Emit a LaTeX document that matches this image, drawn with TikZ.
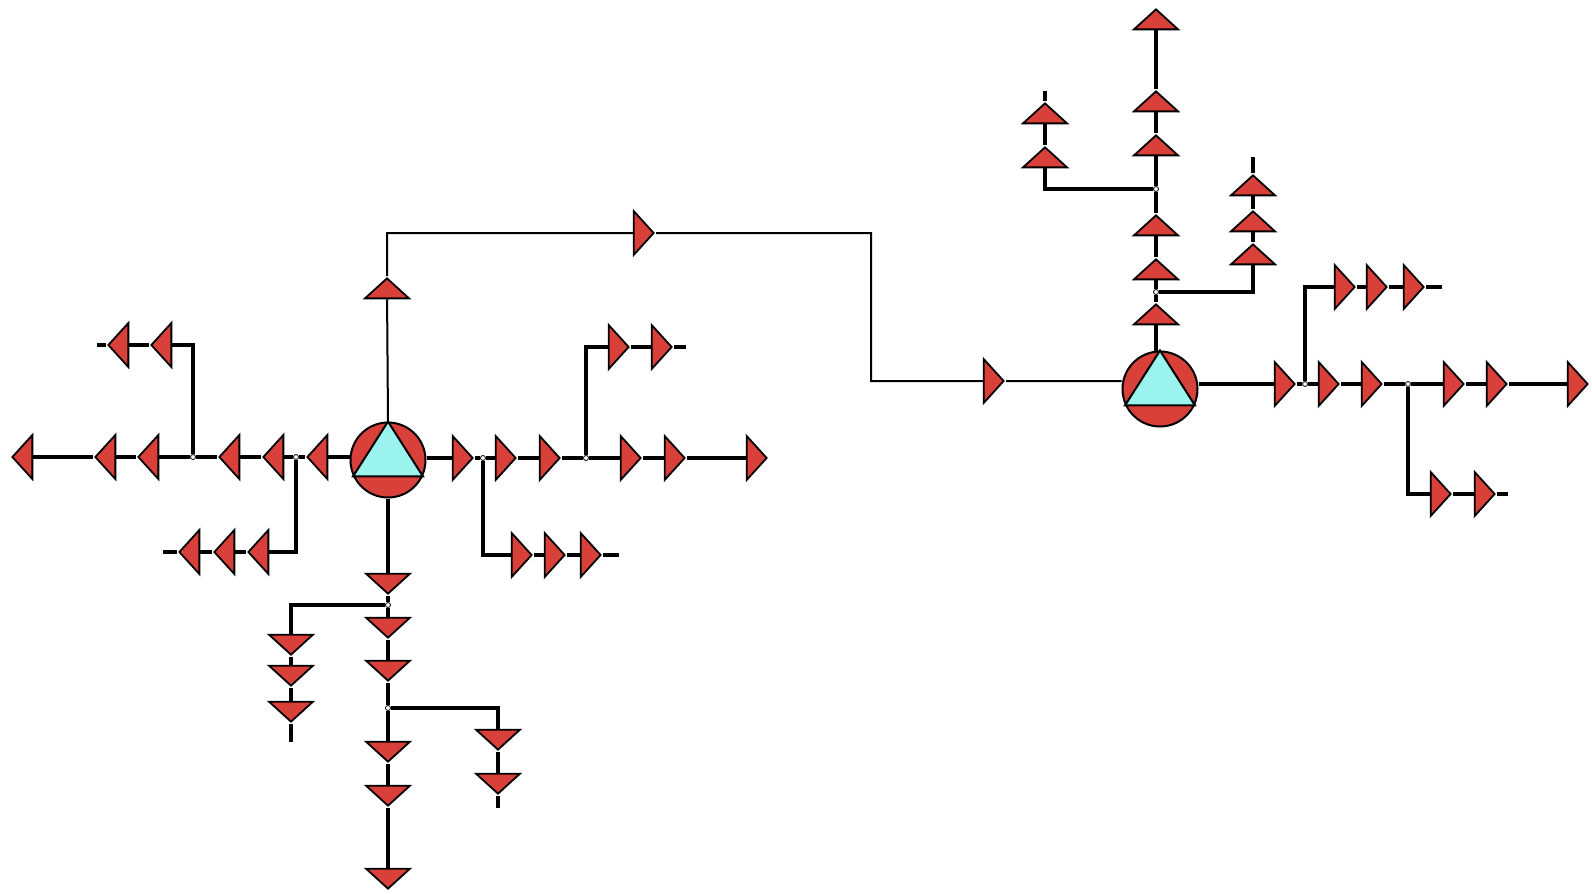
\documentclass[tikz,border=0pt]{standalone}
\usepackage{tikz}
\usetikzlibrary{shapes.geometric}
\definecolor{cr}{HTML}{D9403A}
\definecolor{cc}{HTML}{9AF3EC}
\tikzset{
  pipe/.style={line width=2pt},
  feeder/.style={line width=1pt},
  tri/.style={isosceles triangle,isosceles triangle stretches,draw,line width=0.9pt,fill=cr,inner sep=0pt,minimum width=22pt,minimum height=10pt,anchor=apex},
  triR/.style={tri},
  triL/.style={tri,rotate=180},
  triU/.style={tri,rotate=90},
  triD/.style={tri,rotate=-90},
  hub/.style={circle,draw,line width=1pt,fill=cr,minimum size=37.5pt,inner sep=0pt},
  joint/.style={circle,draw,line width=0.4pt,fill=white,minimum size=2.5pt,inner sep=0pt},
}

\begin{document}
\begin{tikzpicture}[x=0.5pt,y=-0.5pt]
  \useasboundingbox (0,0) rectangle (1592,894);
  % left station
  \node[hub] (hubA) at (388,460) {};
  \draw[line width=1pt,fill=cc] (hubA.north) -- (hubA.-25) -- (hubA.205) -- cycle;
  % left run
  \node[triL] (tL1) at (305,457) {};
  \node[triL] (tL2) at (261,457) {};
  \node[triL] (tL3) at (217,457) {};
  \node[triL] (tL4) at (136,457) {};
  \node[triL] (tL5) at (93,457) {};
  \node[triL] (tL6) at (10,457) {};
  \node[joint] (jL1) at (296,457) {};
  \node[joint] (jL2) at (193,457) {};
  \coordinate (cL1) at (296,552);
  \coordinate (cL2) at (193,345);
  \node[triL] (tUL1) at (149,345) {};
  \node[triL] (tUL2) at (106,345) {};
  \coordinate (eUL) at (97,345);
  \node[triL] (tLL1) at (246,552) {};
  \node[triL] (tLL2) at (212,552) {};
  \node[triL] (tLL3) at (177,552) {};
  \coordinate (eLL) at (163,552);
  \draw[pipe] (tL1 -| hubA.west) -- (tL1) -- (jL1) -- (tL2) -- (tL3) -- (jL2) -- (tL4) -- (tL5) -- (tL6);
  \draw[pipe] (jL2) -- (cL2) -- (tUL1) -- (tUL2) -- (eUL);
  \draw[pipe] (jL1) -- (cL1) -- (tLL1) -- (tLL2) -- (tLL3) -- (eLL);
  % right run
  \node[triR] (tR1) at (475,458) {};
  \node[triR] (tR2) at (518,458) {};
  \node[triR] (tR3) at (562,458) {};
  \node[triR] (tR4) at (643,458) {};
  \node[triR] (tR5) at (687,458) {};
  \node[triR] (tR6) at (769,458) {};
  \node[joint] (jR1) at (483,458) {};
  \node[joint] (jR2) at (586,458) {};
  \coordinate (cR1) at (483,555);
  \coordinate (cR2) at (586,347);
  \node[triR] (tRD1) at (534,555) {};
  \node[triR] (tRD2) at (567,555) {};
  \node[triR] (tRD3) at (603,555) {};
  \coordinate (eRD) at (619,555);
  \node[triR] (tRU1) at (631,347) {};
  \node[triR] (tRU2) at (674,347) {};
  \coordinate (eRU) at (686,347);
  \draw[pipe] (tR1 -| hubA.east) -- (tR1) -- (jR1) -- (tR2) -- (tR3) -- (jR2) -- (tR4) -- (tR5) -- (tR6);
  \draw[pipe] (jR1) -- (cR1) -- (tRD1) -- (tRD2) -- (tRD3) -- (eRD);
  \draw[pipe] (jR2) -- (cR2) -- (tRU1) -- (tRU2) -- (eRU);
  % down run
  \node[triD] (tD1) at (388,596) {};
  \node[triD] (tD2) at (388,640) {};
  \node[triD] (tD3) at (388,683) {};
  \node[triD] (tD4) at (388,764) {};
  \node[triD] (tD5) at (388,808) {};
  \node[triD] (tD6) at (388,891) {};
  \node[joint] (jD1) at (388,605) {};
  \node[joint] (jD2) at (388,708) {};
  \coordinate (cD1) at (291,605);
  \coordinate (cD2) at (498,708);
  \node[triD] (tDL1) at (291,657) {};
  \node[triD] (tDL2) at (291,688) {};
  \node[triD] (tDL3) at (291,724) {};
  \coordinate (eDL) at (291,742);
  \node[triD] (tDR1) at (498,752) {};
  \node[triD] (tDR2) at (498,796) {};
  \coordinate (eDR) at (498,808);
  \draw[pipe] (hubA.south) -- (tD1) -- (jD1) -- (tD2) -- (tD3) -- (jD2) -- (tD4) -- (tD5) -- (tD6);
  \draw[pipe] (jD1) -- (cD1) -- (tDL1) -- (tDL2) -- (tDL3) -- (eDL);
  \draw[pipe] (jD2) -- (cD2) -- (tDR1) -- (tDR2) -- (eDR);
  % right station
  \node[hub] (hubB) at (1160,389) {};
  \draw[line width=1pt,fill=cc] (hubB.north) -- (hubB.-25) -- (hubB.205) -- cycle;
  % link between stations
  \node[triU] (tUp) at (387,276) {};
  \coordinate (cT1) at (387,233);
  \node[triR] (tTop) at (656,233) {};
  \coordinate (cT2) at (871,233);
  \coordinate (cT3) at (871,381);
  \node[triR] (tFeed) at (1006,381) {};
  \draw[feeder] (hubA.north) -- (tUp) -- (cT1) -- (tTop) -- (cT2) -- (cT3) -- (tFeed) -- (tFeed -| hubB.west);
  % east run
  \node[triR] (tS1) at (1297,384) {};
  \node[triR] (tS2) at (1341,384) {};
  \node[triR] (tS3) at (1384,384) {};
  \node[triR] (tS4) at (1466,384) {};
  \node[triR] (tS5) at (1509,384) {};
  \node[triR] (tS6) at (1590,384) {};
  \node[joint] (jS1) at (1305,384) {};
  \node[joint] (jS2) at (1408,384) {};
  \coordinate (cS1) at (1305,287);
  \coordinate (cS2) at (1408,494);
  \node[triR] (tSU1) at (1357,287) {};
  \node[triR] (tSU2) at (1389,287) {};
  \node[triR] (tSU3) at (1426,287) {};
  \coordinate (eSU) at (1442,287);
  \node[triR] (tSD1) at (1453,494) {};
  \node[triR] (tSD2) at (1497,494) {};
  \coordinate (eSD) at (1508,494);
  \draw[pipe] (tS1 -| hubB.east) -- (tS1) -- (jS1) -- (tS2) -- (tS3) -- (jS2) -- (tS4) -- (tS5) -- (tS6);
  \draw[pipe] (jS1) -- (cS1) -- (tSU1) -- (tSU2) -- (tSU3) -- (eSU);
  \draw[pipe] (jS2) -- (cS2) -- (tSD1) -- (tSD2) -- (eSD);
  % north run
  \node[triU] (tV1) at (1156,302) {};
  \node[triU] (tV2) at (1156,257) {};
  \node[triU] (tV3) at (1156,213) {};
  \node[triU] (tV4) at (1156,133) {};
  \node[triU] (tV5) at (1156,89) {};
  \node[triU] (tV6) at (1156,7) {};
  \node[joint] (jV1) at (1156,292) {};
  \node[joint] (jV2) at (1156,189) {};
  \coordinate (cV1) at (1253,292);
  \coordinate (cV2) at (1045,189);
  \node[triU] (tVR1) at (1253,242) {};
  \node[triU] (tVR2) at (1253,209) {};
  \node[triU] (tVR3) at (1253,173) {};
  \coordinate (eVR) at (1253,157);
  \node[triU] (tVL1) at (1045,145) {};
  \node[triU] (tVL2) at (1045,101) {};
  \coordinate (eVL) at (1045,91);
  \draw[pipe] (tV1 |- hubB.north) -- (tV1) -- (jV1) -- (tV2) -- (tV3) -- (jV2) -- (tV4) -- (tV5) -- (tV6);
  \draw[pipe] (jV1) -- (cV1) -- (tVR1) -- (tVR2) -- (tVR3) -- (eVR);
  \draw[pipe] (jV2) -- (cV2) -- (tVL1) -- (tVL2) -- (eVL);
\end{tikzpicture}
\end{document}
